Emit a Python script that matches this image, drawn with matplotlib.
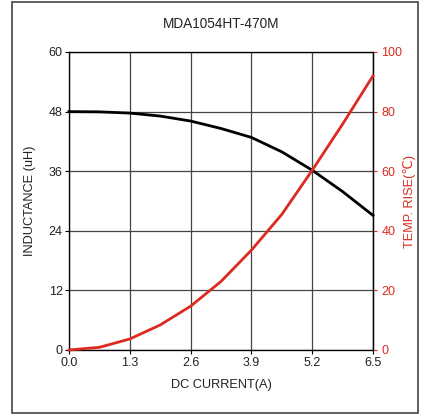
import matplotlib
matplotlib.use('Agg')
import matplotlib.pyplot as plt
from matplotlib.patches import Rectangle

plt.rcParams['font.family'] = ['Liberation Sans', 'DejaVu Sans']

current = [0, 0.65, 1.3, 1.95, 2.6, 3.25, 3.9, 4.55, 5.2, 5.85, 6.5]
inductance = [48.0, 47.95, 47.7, 47.1, 46.1, 44.6, 42.8, 39.9, 36.2, 31.9, 27.1]
temp_rise = [0, 0.9, 3.7, 8.4, 14.7, 23.0, 33.5, 45.5, 60.3, 75.8, 92.0]

x_ticks = [0.0, 1.3, 2.6, 3.9, 5.2, 6.5]
l_ticks = [0, 12, 24, 36, 48, 60]
r_ticks = [0, 20, 40, 60, 80, 100]

red = '#dc2a20'
txt = '#222222'

fig = plt.figure(figsize=(4.25, 4.17), dpi=100)
fig.patches.append(Rectangle((12/425, 1 - 413/417), 406/425, 411/417,
                             transform=fig.transFigure, fill=False,
                             edgecolor='#444444', linewidth=1.2))

ax = fig.add_axes([69/425, 1 - 350/417, 304/425, 298/417])
ax.plot(current, inductance, color='black', linewidth=2.0, clip_on=False, zorder=3)
ax.set_xlim(0, 6.5)
ax.set_ylim(0, 60)
ax.set_xticks(x_ticks)
ax.set_xticklabels(['%.1f' % v for v in x_ticks])
ax.set_yticks(l_ticks)
ax.grid(True, color='#444444', linewidth=0.9)
ax.tick_params(direction='out', length=3, width=0.8, labelsize=9, pad=2,
               labelcolor=txt)
ax.tick_params(axis='y', pad=1.5)
ax.set_xlabel('DC CURRENT(A)', fontsize=9.2, labelpad=7, color=txt)
ax.set_ylabel('INDUCTANCE (uH)', fontsize=9.2, labelpad=9, color=txt)
for s in ax.spines.values():
    s.set_linewidth(0.9)

ax2 = ax.twinx()
ax2.plot(current, temp_rise, color=red, linewidth=2.0, clip_on=False, zorder=4)
ax2.set_ylim(0, 100)
ax2.set_yticks(r_ticks)
ax2.tick_params(axis='y', direction='out', length=3, width=0.8, colors=red,
                labelsize=9, pad=3)
ax2.set_ylabel('TEMP. RISE(\u2103)', color=red, fontsize=9.2, labelpad=0.5)
ax2.spines['right'].set_color('black')
ax2.spines['right'].set_linewidth(0.9)

fig.text(221/425, 1 - 24/417, 'MDA1054HT-470M', ha='center', va='center',
         fontsize=9.8, color=txt)

fig.savefig('out.png', dpi=100)
